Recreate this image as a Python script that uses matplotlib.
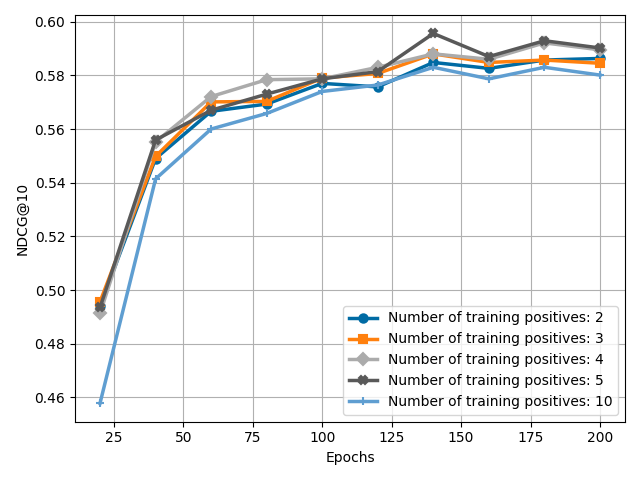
import matplotlib
matplotlib.use("Agg")
import matplotlib.pyplot as plt

epochs = [20, 40, 60, 80, 100, 120, 140, 160, 180, 200]
pos2 = [0.4939, 0.5490, 0.5666, 0.5693, 0.5770, 0.5757, 0.5848, 0.5826, 0.5857, 0.5863]
pos3 = [0.4956, 0.5498, 0.5701, 0.5703, 0.5790, 0.5807, 0.5880, 0.5848, 0.5857, 0.5845]
pos4 = [0.4913, 0.5552, 0.5721, 0.5784, 0.5787, 0.5830, 0.5880, 0.5860, 0.5921, 0.5895]
pos5 = [0.4935, 0.5559, 0.5670, 0.5730, 0.5787, 0.5814, 0.5956, 0.5870, 0.5929, 0.5902]
pos10 = [0.4578, 0.5414, 0.5600, 0.5658, 0.5740, 0.5764, 0.5830, 0.5787, 0.5830, 0.5801]

series = [
    ("Number of training positives: 2", pos2, "o", "#006BA4"),
    ("Number of training positives: 3", pos3, "s", "#FF800E"),
    ("Number of training positives: 4", pos4, "D", "#ABABAB"),
    ("Number of training positives: 5", pos5, "X", "#595959"),
    ("Number of training positives: 10", pos10, "+", "#5F9ED1"),
]

fig, ax = plt.subplots(figsize=(6.4, 4.8), dpi=100)
for label, vals, m, c in series:
    ax.plot(epochs, vals, marker=m, color=c, linewidth=2.5, markersize=6,
            markeredgewidth=1.5, label=label)
ax.grid(True, color="#b0b0b0", linewidth=0.8)
ax.set_xlabel("Epochs")
ax.set_ylabel("NDCG@10")
ax.set_yticks([0.46, 0.48, 0.50, 0.52, 0.54, 0.56, 0.58, 0.60])
ax.legend(loc="lower right")
fig.tight_layout()
fig.savefig("out.png")
